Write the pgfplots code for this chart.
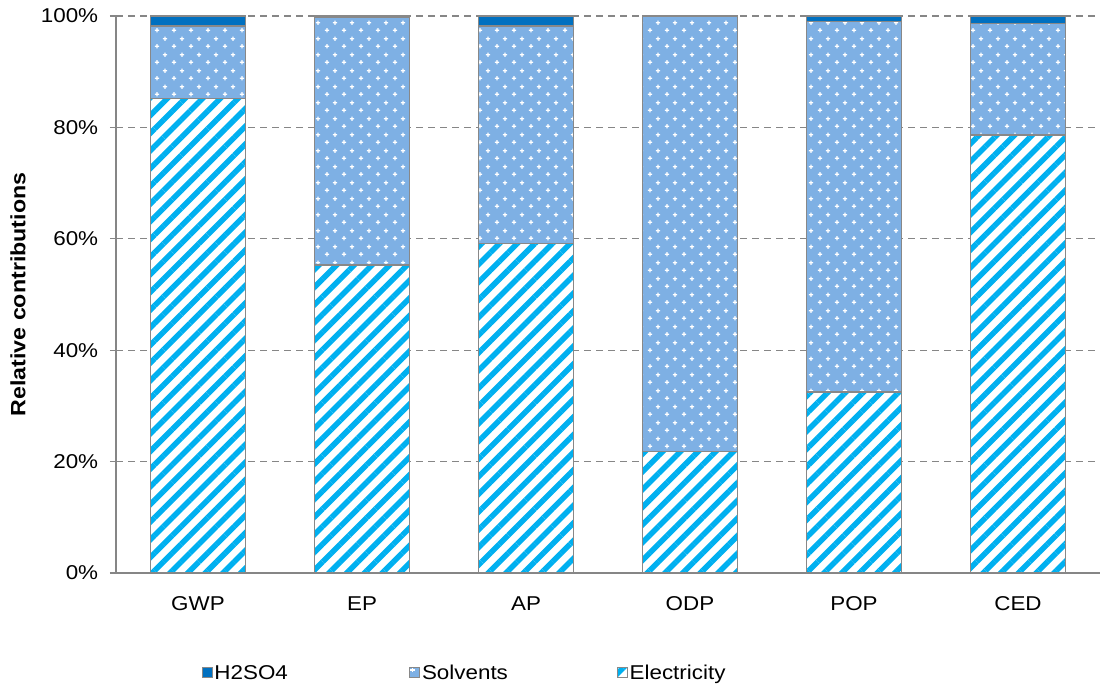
\documentclass[border=0pt]{standalone}
\usepackage{pgfplots}
\pgfplotsset{compat=1.18}
\usetikzlibrary{patterns,patterns.meta}
\usepackage{fontspec}
\setmainfont{Liberation Sans}[FakeStretch=1.12]

\definecolor{acidblue}{RGB}{0,112,192}
\definecolor{solvblue}{RGB}{126,176,228}
\definecolor{elecblue}{RGB}{0,176,240}
\definecolor{axisgray}{RGB}{134,134,134}
\definecolor{edgegray}{RGB}{136,136,136}

% staggered white plus signs laid over the solvent fill
\pgfdeclarepattern{
  name=plusgrid,
  type=uncolored,
  bottom left={\pgfpoint{0bp}{0bp}},
  top right={\pgfpoint{17bp}{16bp}},
  tile size={\pgfpoint{17bp}{16bp}},
  code={
    \pgfsetlinewidth{1.3bp}
    \pgfpathmoveto{\pgfpoint{2bp}{4bp}}\pgfpathlineto{\pgfpoint{6.5bp}{4bp}}
    \pgfpathmoveto{\pgfpoint{4.25bp}{1.75bp}}\pgfpathlineto{\pgfpoint{4.25bp}{6.25bp}}
    \pgfpathmoveto{\pgfpoint{10.5bp}{12bp}}\pgfpathlineto{\pgfpoint{15bp}{12bp}}
    \pgfpathmoveto{\pgfpoint{12.75bp}{9.75bp}}\pgfpathlineto{\pgfpoint{12.75bp}{14.25bp}}
    \pgfusepath{stroke}
  }
}

% shares of each impact category, percent
\pgfplotstableread{
x  elec  solv  acid
0  85.2  13.0  1.8
1  55.3  44.5  0.2
2  59.2  39.0  1.8
3  21.8  78.1  0.1
4  32.5  66.5  1.0
5  78.6  20.0  1.4
}\shares

\newcommand{\lbl}{\fontsize{20bp}{24bp}\selectfont}

\begin{document}
\begin{tikzpicture}
\lbl
\begin{axis}[
  at={(116bp,117bp)}, anchor=south west,
  scale only axis, width=984bp, height=557bp,
  ybar stacked, bar width=0.577,
  xmin=-0.5, xmax=5.5, ymin=0, ymax=100,
  xtick={0,...,5},
  xticklabels={GWP,EP,AP,ODP,POP,CED},
  ytick={0,20,...,100},
  yticklabels={0\%,20\%,40\%,60\%,80\%,100\%},
  tick label style={font=\lbl},
  axis x line*=bottom, axis y line*=left,
  axis line style={axisgray, line width=1.2bp},
  x axis line style={-}, y axis line style={-},
  major x tick style={draw=none},
  major y tick style={axisgray, line width=1.2bp},
  tick align=outside, major tick length=6bp,
  ymajorgrids, grid style={axisgray, dashed, dash pattern=on 7bp off 5bp, line width=1.1bp},
  xticklabel style={yshift=-11bp},
  yticklabel style={xshift=-5bp},
  ylabel={\textbf{Relative contributions}},
  ylabel style={font=\fontsize{20.7bp}{24bp}\selectfont, at={(rel axis cs:-0.0996,0.5)}, anchor=center},
  reverse legend,
  legend columns=3,
  legend style={at={(rel axis cs:0.084,-0.178)}, anchor=west, draw=none, fill=none,
    font=\lbl,
    /tikz/every even column/.append style={column sep=0bp},
    nodes={inner xsep=2bp}},
  legend cell align=left,
  legend image code/.code={\draw[#1, draw=edgegray, line width=0.6bp] (0bp,-5bp) rectangle (10bp,5bp);},
]
\addplot[draw=edgegray, line width=1.4bp, fill=white,
  postaction={pattern={Lines[angle=45, distance=12.5bp, line width=5.5bp]}, pattern color=elecblue}]
  table[x=x, y=elec]{\shares};
\addlegendentry{\makebox[193bp][l]{\strut Electricity}}
\addplot[draw=edgegray, line width=1.4bp, fill=solvblue,
  postaction={pattern=plusgrid, pattern color=white}]
  table[x=x, y=solv]{\shares};
\addlegendentry{\makebox[193bp][l]{\strut Solvents}}
\addplot[draw=edgegray, line width=1.4bp, fill=acidblue]
  table[x=x, y=acid]{\shares};
\addlegendentry{\makebox[193bp][l]{\strut H2SO4}}
\end{axis}
\pgfresetboundingbox
\useasboundingbox (0,0) rectangle (1100bp,690bp);
\end{tikzpicture}
\end{document}
